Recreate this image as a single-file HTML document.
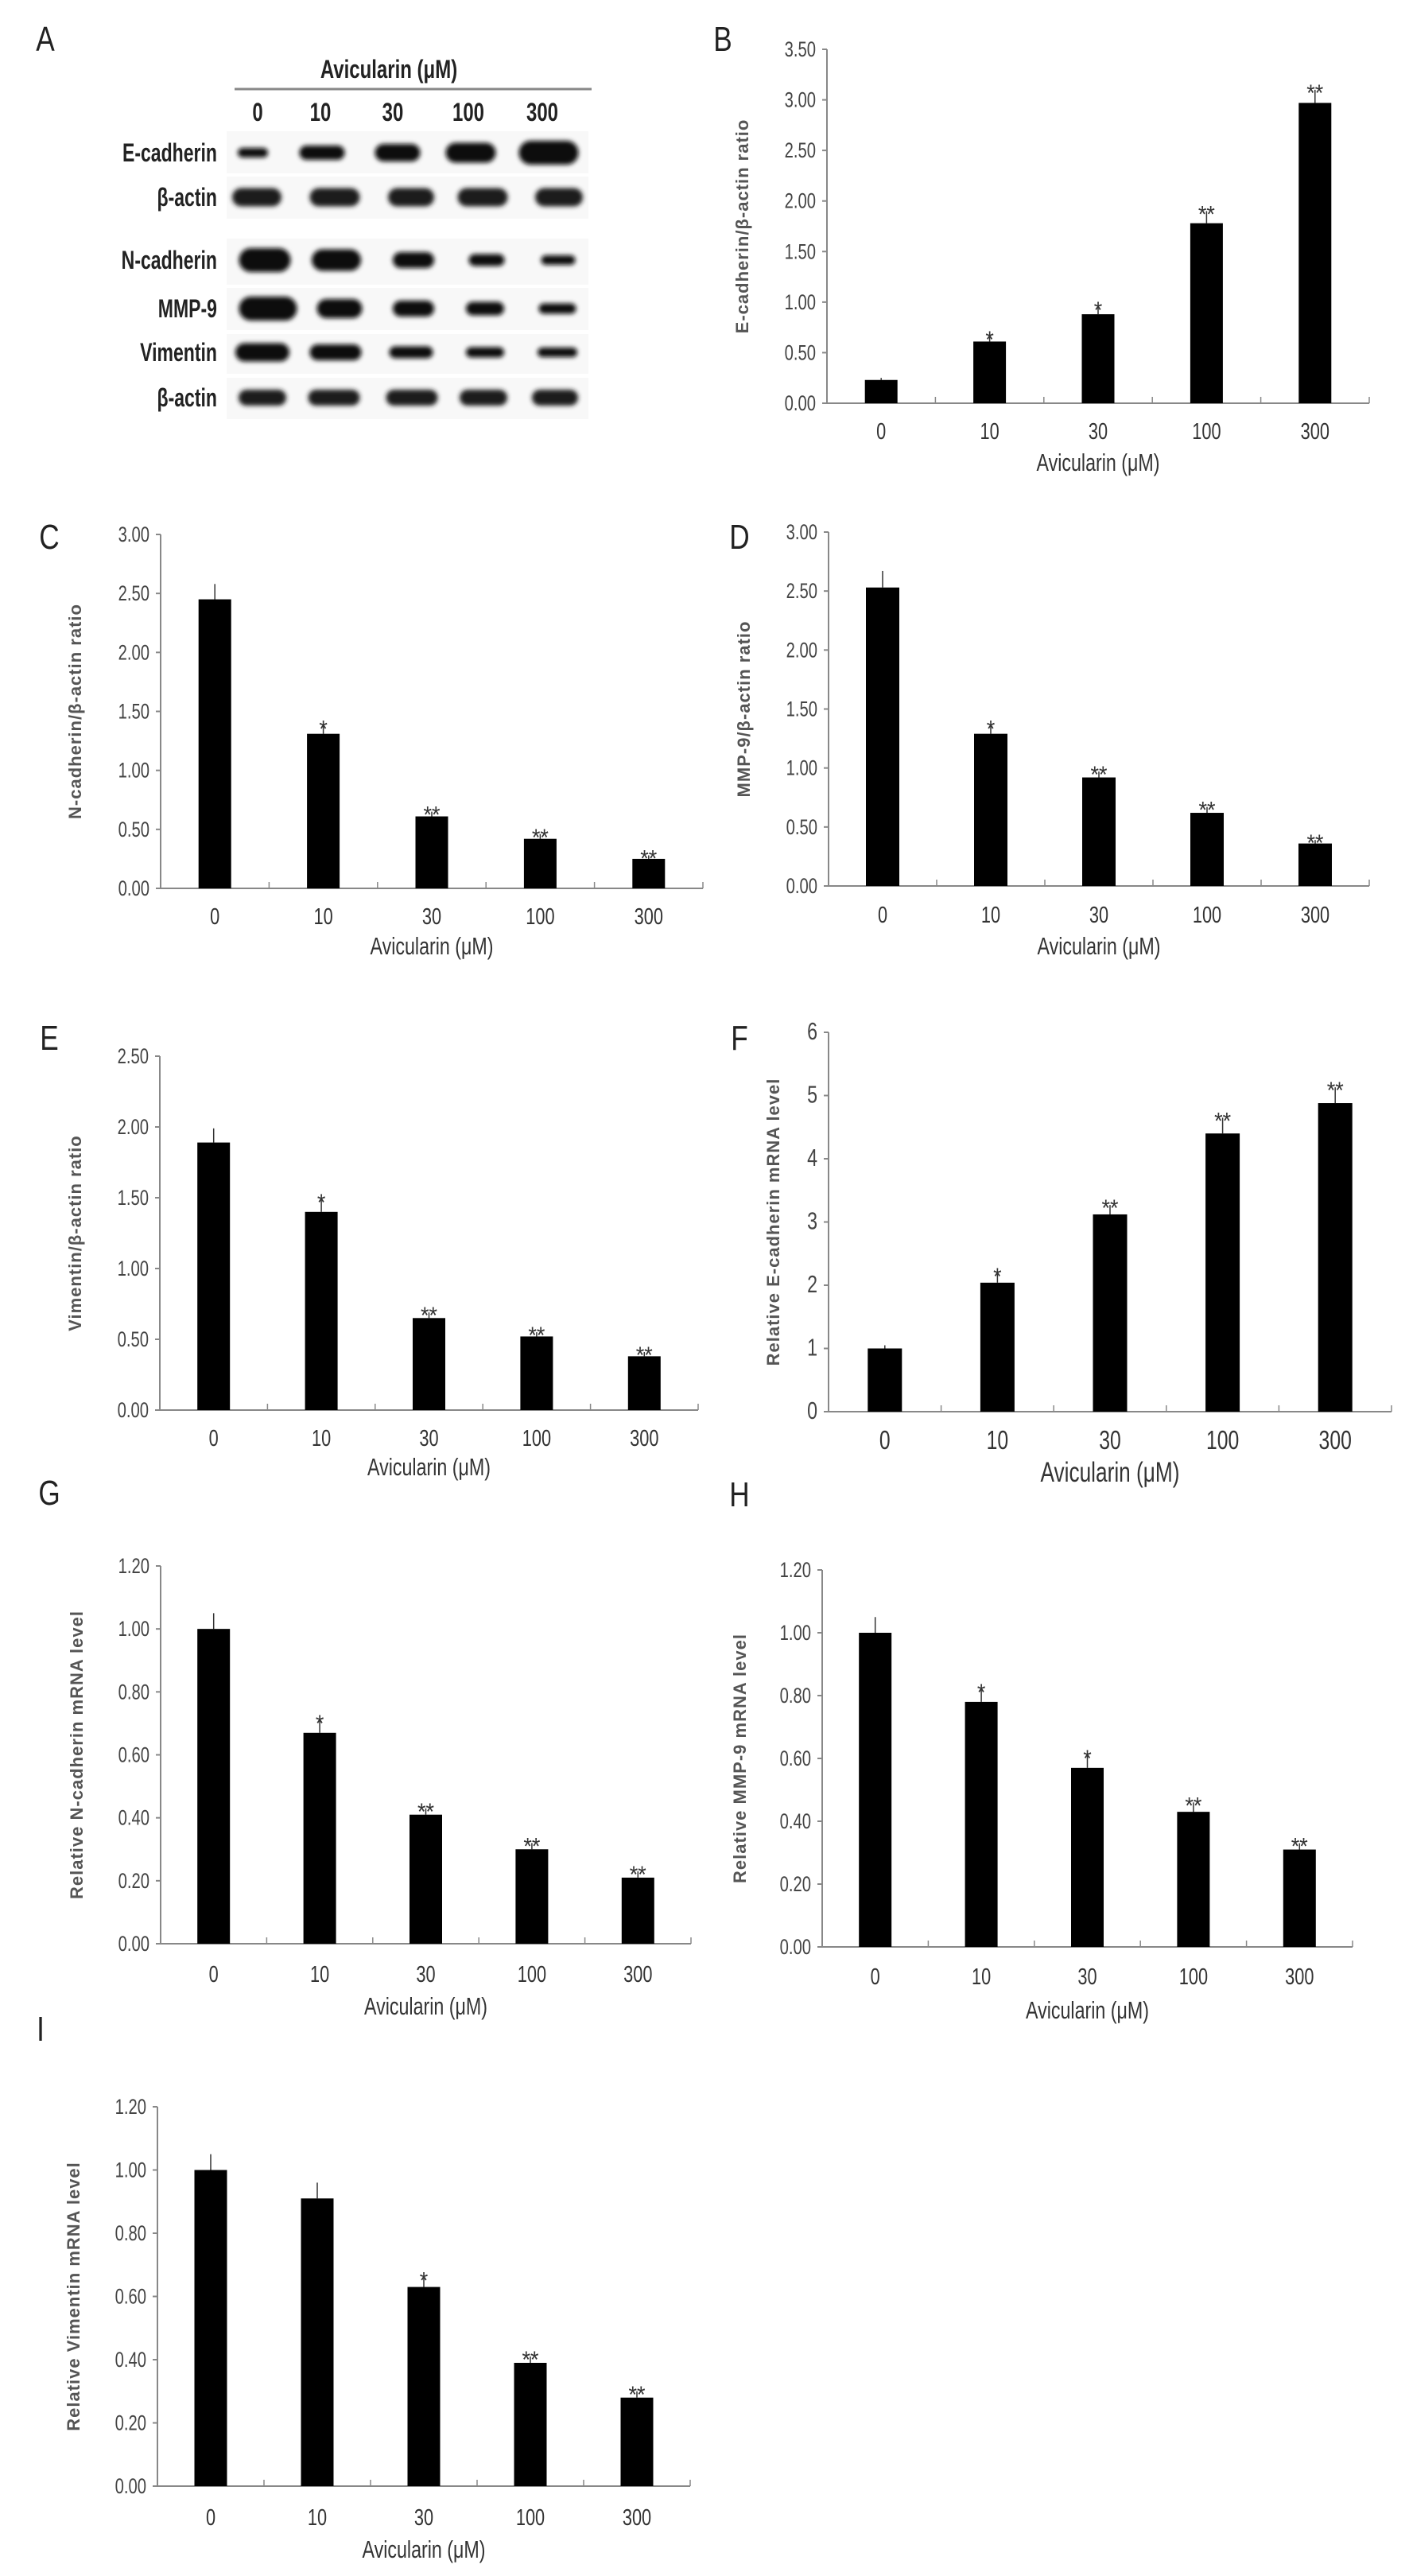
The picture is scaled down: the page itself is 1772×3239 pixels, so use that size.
<!DOCTYPE html>
<html><head><meta charset="utf-8"><style>
html,body{margin:0;padding:0;background:#fff}
svg{display:block}
text{font-family:"Liberation Sans",sans-serif}
</style></head><body>
<svg id="fig" width="1772" height="3239" viewBox="0 0 1772 3239" xmlns="http://www.w3.org/2000/svg">
<defs><filter id="blur" x="-30%" y="-60%" width="160%" height="220%"><feGaussianBlur stdDeviation="3"/></filter></defs>
<g id="blot"></g>
<g id="charts"></g>
</svg>
<script>
const NS='http://www.w3.org/2000/svg';
const categories=['0','10','30','100','300'];
const bVals=[0.23,0.61,0.88,1.78,2.97]; const bErr=[0.02,0.05,0.07,0.12,0.13]; const bStars=['','*','*','**','**'];
const cVals=[2.45,1.31,0.61,0.42,0.25]; const cErr=[0.13,0.07,0.04,0.04,0.03]; const cStars=['','*','**','**','**'];
const dVals=[2.53,1.29,0.92,0.62,0.36]; const dErr=[0.14,0.07,0.05,0.05,0.03]; const dStars=['','*','**','**','**'];
const eVals=[1.89,1.40,0.65,0.52,0.38]; const eErr=[0.10,0.09,0.04,0.03,0.03]; const eStars=['','*','**','**','**'];
const fVals=[1.0,2.04,3.12,4.40,4.88]; const fErr=[0.05,0.15,0.15,0.25,0.25]; const fStars=['','*','**','**','**'];
const gVals=[1.0,0.67,0.41,0.30,0.21]; const gErr=[0.05,0.04,0.02,0.02,0.02]; const gStars=['','*','**','**','**'];
const hVals=[1.0,0.78,0.57,0.43,0.31]; const hErr=[0.05,0.04,0.04,0.03,0.02]; const hStars=['','*','*','**','**'];
const iVals=[1.0,0.91,0.63,0.39,0.28]; const iErr=[0.05,0.05,0.03,0.02,0.02]; const iStars=['','','*','**','**'];

function el(tag,attrs,parent){const e=document.createElementNS(NS,tag);for(const k in attrs)e.setAttribute(k,attrs[k]);parent.appendChild(e);return e;}
function txt(parent,s,x,y,size,anchor,fill,weight,sx){
  const t=el('text',{x:0,y:0,'font-size':size,'text-anchor':anchor,fill:fill,'font-weight':weight||'normal',transform:`translate(${x},${y}) scale(${sx||1},1)`},parent);
  t.textContent=s;return t;}

const blot=document.getElementById('blot');
const fig=document.getElementById('fig');
const lA=txt(fig,'A',57,64,44,'middle','#222','normal',0.8);


const hdr=txt(blot,'Avicularin (μM)',489,98,32,'middle','#222','bold',0.75);


el('line',{x1:295,y1:112,x2:744,y2:112,stroke:'#888','stroke-width':3},blot);
const laneX=[324,403,494,589,682];
categories.forEach((c,i)=>{const t=txt(blot,c,laneX[i],152,32,'middle','#222','bold',0.75);
  
  });
const rowNames=['E-cadherin','β-actin','N-cadherin','MMP-9','Vimentin','β-actin'];
const rowY=[192,248,327,388,443,500];
const strips=[[165,218],[222,275],[300,358],[362,415],[420,470],[475,527]];
const bandX=[[318,405,500,592,690],[323,421,517,607,703],[333,423,520,612,702],[337,427,520,610,701],[330,422,517,610,701],[330,420,518,608,698]];
const bandW=[[38,57,57,63,75],[62,63,58,63,60],[65,62,52,45,43],[73,57,52,48,47],[68,65,55,48,50],[60,65,65,60,58]];
const bandH=[[12,18,22,25,30],[23,23,23,23,23],[30,27,20,15,12],[30,24,20,17,13],[23,20,15,13,12],[20,20,20,20,20]];
rowNames.forEach((n,r)=>{
  el('rect',{x:285,y:strips[r][0],width:455,height:strips[r][1]-strips[r][0],fill:'#f8f8f8'},blot);
  const t=txt(blot,n,273,rowY[r]+11,32,'end','#222','bold',0.72);
  
  
  for(let i=0;i<5;i++){
    const b=el('rect',{x:bandX[r][i]-bandW[r][i]/2,y:rowY[r]-bandH[r][i]/2,width:bandW[r][i],height:bandH[r][i],rx:bandH[r][i]/2,fill:r==1||r==5?'#1e1e1e':'#0a0a0a',filter:'url(#blur)'},blot);
    
    
  }
});

const panels=[
 {id:'b',label:'B',lx:909,ly:64,x0:1040,x1:1722,yTop:62,yBot:507,max:3.5,step:0.5,dec:2,vals:bVals,err:bErr,stars:bStars,ylab:'E-cadherin/β-actin ratio',ylx:941,labY:552,titleY:592,bw:41,fs:27},
 {id:'c',label:'C',lx:62,ly:690,x0:202,x1:884,yTop:672,yBot:1117,max:3,step:0.5,dec:2,vals:cVals,err:cErr,stars:cStars,ylab:'N-cadherin/β-actin ratio',ylx:102,labY:1162,titleY:1200,bw:41,fs:27},
 {id:'d',label:'D',lx:930,ly:690,x0:1042,x1:1722,yTop:669,yBot:1114,max:3,step:0.5,dec:2,vals:dVals,err:dErr,stars:dStars,ylab:'MMP-9/β-actin ratio',ylx:943,labY:1160,titleY:1200,bw:42,fs:27},
 {id:'e',label:'E',lx:62,ly:1320,x0:201,x1:878,yTop:1328,yBot:1773,max:2.5,step:0.5,dec:2,vals:eVals,err:eErr,stars:eStars,ylab:'Vimentin/β-actin ratio',ylx:102,labY:1818,titleY:1855,bw:41,fs:27},
 {id:'f',label:'F',lx:930,ly:1320,x0:1042,x1:1750,yTop:1298,yBot:1775,max:6,step:1,dec:0,vals:fVals,err:fErr,stars:fStars,ylab:'Relative E-cadherin mRNA level',ylx:980,labY:1822,titleY:1863,bw:43,fs:31},
 {id:'g',label:'G',lx:62,ly:1892,x0:202,x1:869,yTop:1969,yBot:2444,max:1.2,step:0.2,dec:2,vals:gVals,err:gErr,stars:gStars,ylab:'Relative N-cadherin mRNA level',ylx:104,labY:2492,titleY:2533,bw:41,fs:27},
 {id:'h',label:'H',lx:930,ly:1894,x0:1034,x1:1701,yTop:1974,yBot:2448,max:1.2,step:0.2,dec:2,vals:hVals,err:hErr,stars:hStars,ylab:'Relative MMP-9 mRNA level',ylx:938,labY:2495,titleY:2538,bw:41,fs:27},
 {id:'i',label:'I',lx:51,ly:2566,x0:198,x1:868,yTop:2649,yBot:3126,max:1.2,step:0.2,dec:2,vals:iVals,err:iErr,stars:iStars,ylab:'Relative Vimentin mRNA level',ylx:100,labY:3175,titleY:3216,bw:41,fs:27}
];
const charts=document.getElementById('charts');
panels.forEach(p=>{
  const g=el('g',{},charts);
  
  
  const y=v=>p.yBot-(v/p.max)*(p.yBot-p.yTop);
  const slot=(p.x1-p.x0)/5;
  const xc=i=>p.x0+(i+0.5)*slot;
  const pl=txt(g,p.label,p.lx,p.ly,44,'middle','#222','normal',0.8);
  
  
  const ya=el('line',{x1:p.x0,y1:p.yTop,x2:p.x0,y2:p.yBot,stroke:'#888','stroke-width':2},g);
  
  
  const nT=Math.round(p.max/p.step);
  for(let k=0;k<=nT;k++){
    const v=k*p.step;const yy=y(v);
    el('line',{x1:p.x0-6,y1:yy,x2:p.x0,y2:yy,stroke:'#888','stroke-width':2},g);
    const t=txt(g,v.toFixed(p.dec),p.x0-14,yy+9,p.fs,'end','#444','normal',0.75);
    
    
  }
  const xa=el('line',{x1:p.x0,y1:p.yBot,x2:p.x1,y2:p.yBot,stroke:'#888','stroke-width':2},g);
  
  
  for(let k=1;k<=5;k++){el('line',{x1:p.x0+k*slot,y1:p.yBot-8,x2:p.x0+k*slot,y2:p.yBot,stroke:'#888','stroke-width':1.5},g);}
  p.vals.forEach((v,i)=>{
    const top=y(v);
    el('line',{x1:xc(i),y1:y(v+p.err[i]),x2:xc(i),y2:top,stroke:'#333','stroke-width':1.5},g);
    const r=el('rect',{x:xc(i)-p.bw/2,y:top,width:p.bw,height:p.yBot-top,fill:'#000'},g);
    
    
    if(p.stars[i]){const s=txt(g,p.stars[i],xc(i),y(v+p.err[i])+14,30,'middle','#333','normal',0.9);
      
      }
    const lt=txt(g,categories[i],xc(i),p.labY,p.fs+2,'middle','#333','normal',0.75);
    
    
  });
  const xt=txt(g,'Avicularin (μM)',(p.x0+p.x1)/2,p.titleY,p.fs+4,'middle','#333','normal',0.75);
  
  
  const yl=el('text',{x:0,y:0,'font-size':22,'text-anchor':'middle',fill:'#555','font-weight':'bold','letter-spacing':'1',transform:`translate(${p.ylx},${(p.yTop+p.yBot)/2}) rotate(-90)`},g);
  yl.textContent=p.ylab;
  
  
});
</script>
</body></html>
